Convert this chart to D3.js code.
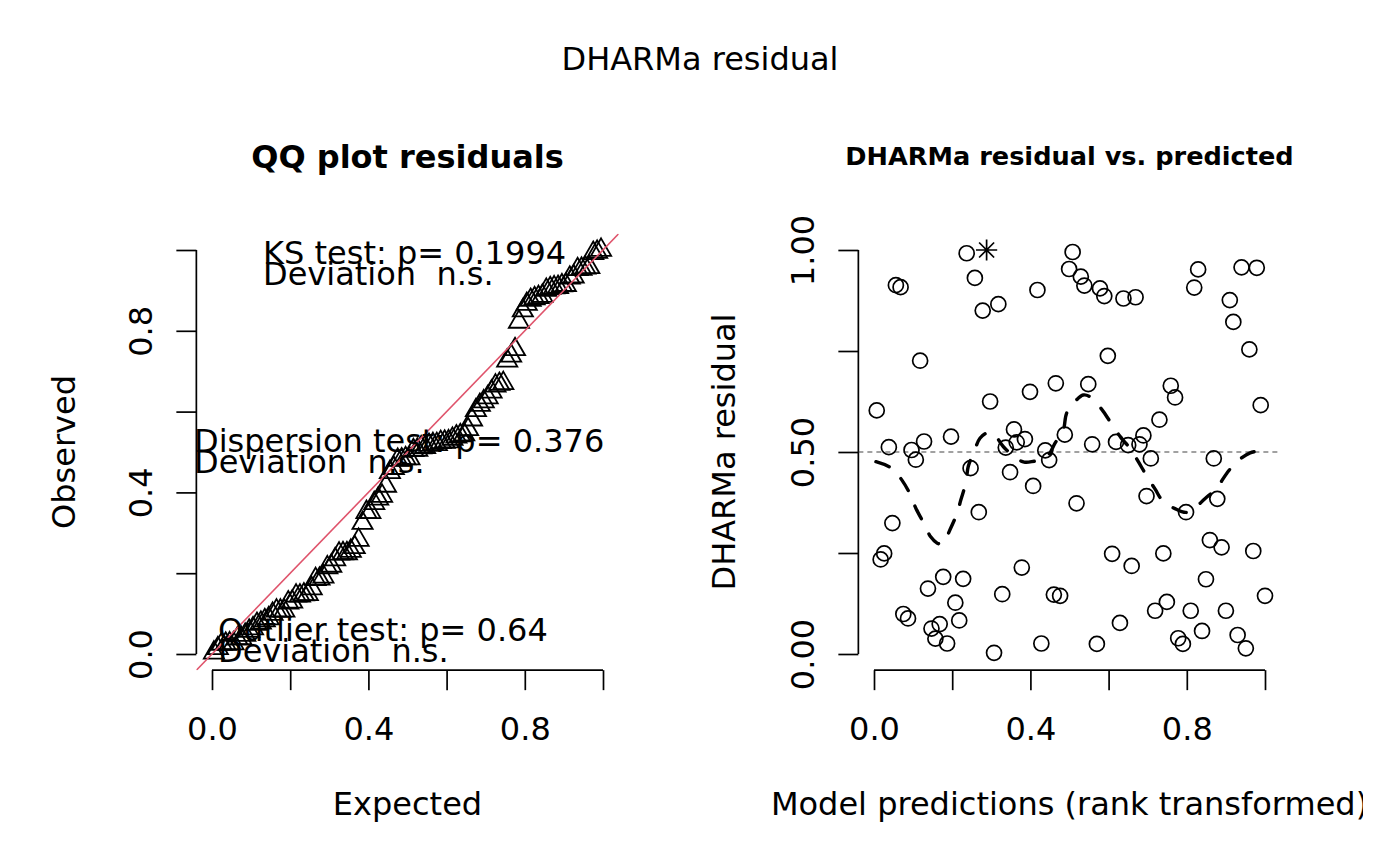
<!DOCTYPE html>
<html>
<head>
<meta charset="utf-8">
<script src="https://cdn.jsdelivr.net/npm/d3@7"></script>
<style>
  html, body { margin: 0; padding: 0; background: #ffffff; }
  svg text { font-family: "DejaVu Sans", sans-serif; fill: #000; }
</style>
</head>
<body>
<svg id="chart" width="1400" height="866"></svg>
<script>
// ---------------- data ----------------
const mainTitle = "DHARMa residual";
const qqTitle = "QQ plot residuals";
const resTitle = "DHARMa residual vs. predicted";

// rank-transformed model predictions (x) and DHARMa residuals (y)
const predRank = [
  0.237, 0.056, 0.068, 0.258, 0.418, 0.278, 0.318, 0.118, 0.465, 0.007,
  0.399, 0.297, 0.038, 0.096, 0.107, 0.128, 0.197, 0.247, 0.358, 0.386,
  0.365, 0.337, 0.348, 0.438, 0.448, 0.407, 0.268, 0.047, 0.026, 0.017,
  0.378, 0.177, 0.228, 0.138, 0.328, 0.460, 0.476, 0.208, 0.075, 0.087,
  0.218, 0.168, 0.147, 0.157, 0.187, 0.428, 0.307, 0.508, 0.499, 0.529,
  0.538, 0.578, 0.589, 0.638, 0.669, 0.829, 0.819, 0.940, 0.979, 0.910,
  0.919, 0.960, 0.598, 0.548, 0.759, 0.770, 0.989, 0.730, 0.488, 0.558,
  0.619, 0.650, 0.689, 0.679, 0.708, 0.869, 0.518, 0.697, 0.798, 0.878,
  0.859, 0.889, 0.970, 0.609, 0.659, 0.740, 0.849, 1.000, 0.749, 0.719,
  0.810, 0.900, 0.629, 0.839, 0.778, 0.790, 0.930, 0.951, 0.570
];
const residual = [
  0.992, 0.913, 0.908, 0.931, 0.901, 0.850, 0.866, 0.726, 0.670, 0.603,
  0.649, 0.625, 0.512, 0.505, 0.481, 0.526, 0.538, 0.460, 0.556, 0.532,
  0.524, 0.511, 0.450, 0.504, 0.480, 0.416, 0.351, 0.324, 0.249, 0.234,
  0.214, 0.191, 0.186, 0.162, 0.148, 0.147, 0.144, 0.127, 0.099, 0.088,
  0.083, 0.074, 0.063, 0.038, 0.026, 0.026, 0.003, 0.995, 0.953, 0.934,
  0.912, 0.905, 0.886, 0.880, 0.883, 0.952, 0.907, 0.957, 0.956, 0.876,
  0.822, 0.754, 0.738, 0.668, 0.664, 0.635, 0.616, 0.580, 0.543, 0.519,
  0.525, 0.517, 0.541, 0.519, 0.484, 0.484, 0.373, 0.391, 0.351, 0.384,
  0.282, 0.264, 0.255, 0.248, 0.218, 0.249, 0.185, 0.144, 0.129, 0.107,
  0.107, 0.107, 0.077, 0.057, 0.039, 0.025, 0.047, 0.014, 0.025
];
// outlier (drawn as a star)
const outlierRank = [0.288];
const outlierResidual = [1.0];

// smoothed line
const smoothX = [0.005, 0.045, 0.071, 0.092, 0.107, 0.130, 0.145, 0.161, 0.176, 0.194,
  0.213, 0.222, 0.235, 0.241, 0.256, 0.271, 0.289, 0.305, 0.331, 0.365,
  0.384, 0.403, 0.442, 0.463, 0.484, 0.493, 0.518, 0.535, 0.552, 0.582,
  0.604, 0.632, 0.655, 0.676, 0.696, 0.719, 0.740, 0.778, 0.793, 0.808,
  0.847, 0.876, 0.902, 0.926, 0.962, 1.000];
const smoothY = [0.476, 0.460, 0.431, 0.396, 0.361, 0.319, 0.290, 0.275, 0.272, 0.307,
  0.350, 0.381, 0.424, 0.464, 0.501, 0.534, 0.547, 0.546, 0.513, 0.484,
  0.475, 0.476, 0.488, 0.522, 0.554, 0.597, 0.629, 0.641, 0.637, 0.606,
  0.575, 0.535, 0.509, 0.476, 0.443, 0.408, 0.377, 0.356, 0.351, 0.352,
  0.385, 0.410, 0.447, 0.474, 0.498, 0.503];

// test annotations
const ksText = ["KS test: p= 0.1994", "Deviation  n.s."];
const dispText = ["Dispersion test: p= 0.376", "Deviation  n.s."];
const outText = ["Outlier test: p= 0.64", "Deviation  n.s."];

// axes
const qqTicks = [0, 0.2, 0.4, 0.6, 0.8, 1.0];
const qqTickLabels = ["0.0", "", "0.4", "", "0.8", ""];
const resXTicks = [0, 0.2, 0.4, 0.6, 0.8, 1.0];
const resXTickLabels = ["0.0", "", "0.4", "", "0.8", ""];
const resYTicks = [0, 0.25, 0.5, 0.75, 1.0];
const resYTickLabels = ["0.00", "", "0.50", "", "1.00"];

// ---------------- drawing ----------------
const svg = d3.select("#chart");
svg.append("rect").attr("width", 1400).attr("height", 866).attr("fill", "#fff");

const FS = 32;       // base text size
const LW = 1.7;      // base line width

const y = d3.scaleLinear().domain([0, 1]).range([654, 250]);
const xL = d3.scaleLinear().domain([0, 1]).range([212, 603]);
const xR = d3.scaleLinear().domain([0, 1]).range([874, 1265]);
const ext = 0.04; // R's 4% axis extension

const defs = svg.append("defs");
defs.append("clipPath").attr("id", "clipL").append("rect")
  .attr("x", xL(-ext)).attr("y", y(1 + ext))
  .attr("width", xL(1 + ext) - xL(-ext)).attr("height", y(-ext) - y(1 + ext));
defs.append("clipPath").attr("id", "clipR").append("rect")
  .attr("x", xR(-ext)).attr("y", y(1 + ext))
  .attr("width", xR(1 + ext) - xR(-ext)).attr("height", y(-ext) - y(1 + ext));
defs.append("clipPath").attr("id", "clipFig").append("rect")
  .attr("x", 0).attr("y", 0).attr("width", 1363).attr("height", 866);

// main title
svg.append("text").attr("x", 700).attr("y", 70).attr("text-anchor", "middle")
  .style("font-size", "32px").text(mainTitle);

function drawAxes(x, ticks, labels, yticks, ylabels, xlab, ylab, ylabX, ytickX, clipX) {
  const g = svg.append("g");
  const plotLeft = x(-ext), plotBottom = y(-ext);
  const xa = d3.axisBottom(x).tickValues(ticks).tickSize(20)
    .tickFormat((d, i) => labels[i]);
  const gx = g.append("g").attr("transform", `translate(0,${plotBottom})`).call(xa);
  gx.select(".domain").attr("d", `M${x(ticks[0])},0H${x(ticks[ticks.length - 1])}`)
    .attr("stroke", "#000").attr("stroke-width", LW);
  gx.selectAll(".tick line").attr("stroke", "#000").attr("stroke-width", LW);
  gx.selectAll(".tick text").attr("y", 70).attr("dy", 0)
    .style("font-size", FS + "px").style("font-family", "DejaVu Sans");
  const ya = d3.axisLeft(y).tickValues(yticks).tickSize(20)
    .tickFormat((d, i) => ylabels[i]);
  const gy = g.append("g").attr("transform", `translate(${plotLeft},0)`).call(ya);
  gy.select(".domain").attr("d", `M0,${y(yticks[0])}V${y(yticks[yticks.length - 1])}`)
    .attr("stroke", "#000").attr("stroke-width", LW);
  gy.selectAll(".tick line").attr("stroke", "#000").attr("stroke-width", LW);
  gy.selectAll(".tick text")
    .attr("x", null).attr("dy", 0)
    .attr("text-anchor", "middle")
    .attr("transform", `translate(${ytickX - plotLeft},0) rotate(-90)`)
    .style("font-size", FS + "px").style("font-family", "DejaVu Sans");
  const xt = g.append("text").attr("x", (x(0) + x(1)) / 2).attr("y", 815)
    .attr("text-anchor", "middle").style("font-size", FS + "px").text(xlab);
  if (clipX) xt.attr("clip-path", "url(#clipFig)");
  g.append("text").attr("transform", `translate(${ylabX},${y(0.5)}) rotate(-90)`)
    .attr("text-anchor", "middle").style("font-size", FS + "px").text(ylab);
}

// ---------- left panel: QQ plot ----------
const n = residual.length + outlierResidual.length;
const observed = d3.sort(residual.concat(outlierResidual));
const qq = observed.map((o, i) => ({ e: (i + 0.5) / n, o }));

svg.append("text").attr("x", (xL(0) + xL(1)) / 2).attr("y", 168)
  .attr("text-anchor", "middle").style("font-size", "32px").style("font-weight", "bold")
  .text(qqTitle);

drawAxes(xL, qqTicks, qqTickLabels, qqTicks, qqTickLabels, "Expected", "Observed", 75, 152, false);

// triangles (pch = 2)
const triR = 7.5;
const triPath = `M0,${-1.5551 * triR}L${1.3468 * triR},${0.7776 * triR}L${-1.3468 * triR},${0.7776 * triR}Z`;
svg.append("g").selectAll("path").data(qq).join("path")
  .attr("d", triPath)
  .attr("transform", d => `translate(${xL(d.e)},${y(d.o)})`)
  .attr("fill", "none").attr("stroke", "#000").attr("stroke-width", 1.8);

// 1:1 line
svg.append("line").attr("clip-path", "url(#clipL)")
  .attr("x1", xL(-ext)).attr("y1", y(-ext)).attr("x2", xL(1 + ext)).attr("y2", y(1 + ext))
  .attr("stroke", "#DF536B").attr("stroke-width", 1.6);

// annotations
function note(lines, x0, y0) {
  lines.forEach((t, i) => {
    svg.append("text").attr("x", x0).attr("y", y0 + i * 20.5)
      .attr("xml:space", "preserve").style("white-space", "pre")
      .style("font-size", FS + "px").text(t);
  });
}
note(ksText, 263, 264);
note(dispText, 194, 452);
note(outText, 218, 641);

// ---------- right panel: residual vs predicted ----------
svg.append("text").attr("x", (xR(0) + xR(1)) / 2).attr("y", 165)
  .attr("text-anchor", "middle").style("font-size", "25.6px").style("font-weight", "bold")
  .text(resTitle);

drawAxes(xR, resXTicks, resXTickLabels, resYTicks, resYTickLabels,
  "Model predictions (rank transformed)", "DHARMa residual", 735, 814, true);

// reference line at 0.5
svg.append("line").attr("clip-path", "url(#clipR)")
  .attr("x1", xR(-ext)).attr("x2", xR(1 + ext)).attr("y1", y(0.5)).attr("y2", y(0.5))
  .attr("stroke", "#444").attr("stroke-width", 1.2).attr("stroke-dasharray", "5,4");

// residual points
const pts = predRank.map((p, i) => ({ x: p, y: residual[i] }));
svg.append("g").selectAll("circle").data(pts).join("circle")
  .attr("cx", d => xR(d.x)).attr("cy", d => y(d.y)).attr("r", 7.5)
  .attr("fill", "none").attr("stroke", "#000").attr("stroke-width", LW);

// outlier star (pch = 8)
const s1 = 7.5, s2 = 7.5 * Math.SQRT2;
const starPath = `M${-s1},${-s1}L${s1},${s1}M${-s1},${s1}L${s1},${-s1}M${-s2},0L${s2},0M0,${-s2}L0,${s2}`;
svg.append("g").selectAll("path").data(outlierRank.map((p, i) => ({ x: p, y: outlierResidual[i] })))
  .join("path").attr("d", starPath)
  .attr("transform", d => `translate(${xR(d.x)},${y(d.y)})`)
  .attr("fill", "none").attr("stroke", "#000").attr("stroke-width", LW);

// smooth line
const sm = smoothX.map((v, i) => ({ x: v, y: smoothY[i] }));
svg.append("path").datum(sm)
  .attr("d", d3.line().x(d => xR(d.x)).y(d => y(d.y)).curve(d3.curveCatmullRom.alpha(0.5)))
  .attr("fill", "none").attr("stroke", "#000").attr("stroke-width", 3.4)
  .attr("stroke-linecap", "round").attr("stroke-dasharray", "14,17");
</script>
</body>
</html>
